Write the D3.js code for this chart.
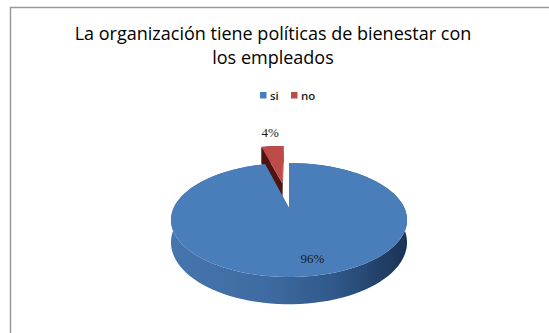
<!DOCTYPE html>
<meta charset="utf-8">
<style>
  body { margin: 0; background: #fff; }
  svg { display: block; }
</style>
<script src="https://d3js.org/d3.v7.min.js"></script>
<div id="chart"></div>
<script>
// chart data
const categories = ["si", "no"];
const values = [96, 4];
const pctLabels = ["96%", "4%"];
const colors = ["#4a7ebb", "#be4b48"];
const explode = [0, 0.5];

const width = 549, height = 333;

const svg = d3.select("#chart").append("svg")
  .attr("width", width)
  .attr("height", height);

// chart frame (runs off the right and bottom of the picture)
svg.append("rect")
  .attr("x", 10.5).attr("y", 7.5)
  .attr("width", 600).attr("height", 400)
  .attr("fill", "#fff")
  .attr("stroke", "#9a9a9a")
  .attr("stroke-width", 1.5);

// title
const title = svg.append("text")
  .attr("text-anchor", "middle")
  .attr("font-family", "'Open Sans', Lato, sans-serif")
  .attr("font-size", "18px")
  .attr("fill", "#000");
title.append("tspan").attr("x", 273).attr("y", 40)
  .text("La organización tiene políticas de bienestar con");
title.append("tspan").attr("x", 273).attr("y", 64)
  .text("los empleados");

// legend
const legend = svg.append("g").attr("transform", "translate(260,92)");
const legendX = d3.scalePoint().domain(categories).range([0, 31]);
const item = legend.selectAll("g").data(categories).enter().append("g")
  .attr("transform", d => `translate(${legendX(d)},0)`);
item.append("rect")
  .attr("width", 6.5).attr("height", 6.5)
  .attr("fill", (d, i) => colors[i]);
item.append("text")
  .attr("x", 10).attr("y", 7.5)
  .attr("font-family", "'Open Sans', sans-serif")
  .attr("font-size", "11.5px")
  .attr("font-weight", "600")
  .attr("fill", "#222")
  .text(d => d);

// 3D pie with a little perspective
const cx = 289, cy = 208, Rx = 115.4, Ry = 54.5, k = 0.21, depth = 21.5;
function proj(u, v, down) {
  const p = 1 / (1 - k * v);
  return [cx + Rx * u * p, cy + Ry * v * p + (down ? depth * p : 0)];
}
function rim(a, r, ex, mid, down) {
  const u = r * Math.sin(a) + ex * Math.sin(mid);
  const v = -r * Math.cos(a) - ex * Math.cos(mid);
  return proj(u, v, down);
}

const arcs = d3.pie().sort(null).value(d => d)(values);
arcs.forEach((a, i) => {
  a.mid = (a.startAngle + a.endAngle) / 2;
  a.ex = explode[i];
  a.i = i;
});

const defs = svg.append("defs");
const wallGrad = defs.append("linearGradient")
  .attr("id", "wallBlue").attr("gradientUnits", "userSpaceOnUse")
  .attr("x1", cx - Rx).attr("x2", cx + Rx).attr("y1", 0).attr("y2", 0);
[[0, "#4674ad"], [0.4, "#3e6ba1"], [0.7, "#30588a"], [1, "#1b3456"]].forEach(s =>
  wallGrad.append("stop").attr("offset", s[0]).attr("stop-color", s[1]));

const line = d3.line();
const pie = svg.append("g");

// back slices first
const order = arcs.slice().sort((a, b) => (-Math.cos(a.mid)) - (-Math.cos(b.mid)));
order.forEach(a => {
  const steps = d3.range(0, 1.0001, 1 / 120)
    .map(t => a.startAngle + t * (a.endAngle - a.startAngle));
  const topArc = steps.map(t => rim(t, 1, a.ex, a.mid, false));
  const botArc = steps.map(t => rim(t, 1, a.ex, a.mid, true));
  const c0 = rim(0, 0, a.ex, a.mid, false);
  const c1 = rim(0, 0, a.ex, a.mid, true);
  const wallFill = a.i === 0 ? "url(#wallBlue)" : "#6e211f";
  const faceFill = a.i === 0 ? "#2d5282" : "#4e1412";

  // outer wall
  pie.append("path")
    .attr("d", line(topArc.concat(botArc.slice().reverse())) + "Z")
    .attr("fill", wallFill);
  // radial cut faces
  [a.startAngle, a.endAngle].forEach(ang => {
    const t = rim(ang, 1, a.ex, a.mid, false);
    const b = rim(ang, 1, a.ex, a.mid, true);
    pie.append("path")
      .attr("d", line([c0, t, b, c1]) + "Z")
      .attr("fill", faceFill);
  });
  // top face
  pie.append("path")
    .attr("d", line([c0].concat(topArc)) + "Z")
    .attr("fill", colors[a.i]);
});

// data labels
const labelR = [0.78, 1.3];
svg.append("g").selectAll("text").data(arcs).enter().append("text")
  .attr("x", d => rim(0, 0, labelR[d.i] + d.ex, d.mid, false)[0] + (d.i === 0 ? 10 : 0))
  .attr("y", d => rim(d.mid, labelR[d.i], d.ex, d.mid, false)[1] + (d.i === 0 ? 5 : 0))
  .attr("text-anchor", "middle")
  .attr("font-family", "'Liberation Serif', 'DejaVu Serif', serif")
  .attr("font-size", "13px")
  .attr("fill", "#1a1a1a")
  .text((d, i) => pctLabels[i]);
</script>
